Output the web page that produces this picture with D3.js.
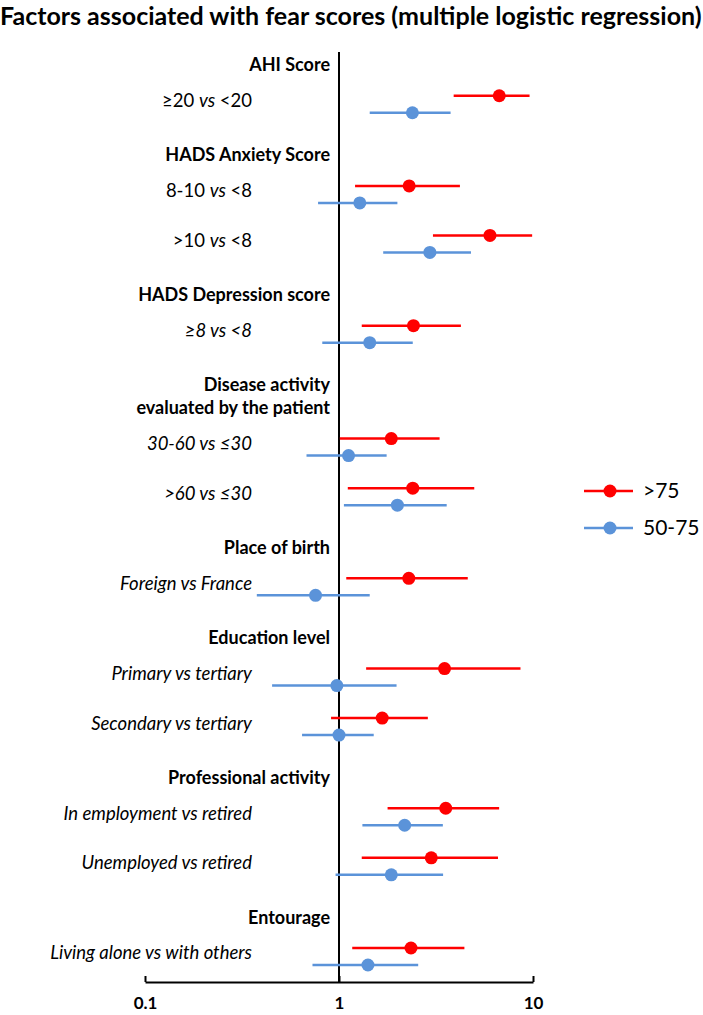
<!DOCTYPE html>
<html>
<head>
<meta charset="utf-8">
<script src="https://cdn.jsdelivr.net/npm/d3@7/dist/d3.min.js"></script>
<style>
  body { margin: 0; background: #fff; }
  text { font-family: Lato, "Open Sans", sans-serif; fill: #000; }
</style>
</head>
<body>
<div class="chart"></div>
<script>
// group headings (a heading may take two lines)
var groups = [
    ["AHI Score"],
    ["HADS Anxiety Score"],
    ["HADS Depression score"],
    ["Disease activity", "evaluated by the patient"],
    ["Place of birth"],
    ["Education level"],
    ["Professional activity"],
    ["Entourage"]
];

// comparisons, which group they sit in, and whether the whole label is italic
var rowLabels = ["≥20 vs <20", "8-10 vs <8", ">10 vs <8", "≥8 vs <8", "30-60 vs ≤30", ">60 vs ≤30",
    "Foreign vs France", "Primary vs tertiary", "Secondary vs tertiary",
    "In employment vs retired", "Unemployed vs retired", "Living alone vs with others"];
var rowGroup = [0, 1, 1, 2, 3, 3, 4, 5, 5, 6, 6, 7];
var rowItalic = [false, false, false, true, true, true, true, true, true, true, true, true];

var series = [">75", "50-75"];
var colors = ["#ff0000", "#5b93d9"];

// odds ratios and 95% CI, >75
var or75 = [6.7, 2.3, 6.0, 2.42, 1.86, 2.4, 2.29, 3.5, 1.67, 3.55, 2.99, 2.35];
var lo75 = [3.9, 1.21, 3.05, 1.31, 1.01, 1.11, 1.09, 1.38, 0.91, 1.78, 1.31, 1.17];
var hi75 = [9.6, 4.2, 9.9, 4.25, 3.3, 4.98, 4.61, 8.62, 2.87, 6.69, 6.6, 4.43];
// odds ratios and 95% CI, 50-75
var or50 = [2.39, 1.28, 2.94, 1.44, 1.12, 2.0, 0.757, 0.975, 1.0, 2.18, 1.86, 1.41];
var lo50 = [1.44, 0.78, 1.69, 0.82, 0.68, 1.06, 0.377, 0.452, 0.645, 1.32, 0.96, 0.73];
var hi50 = [3.76, 2.0, 4.79, 2.4, 1.76, 3.59, 1.44, 1.98, 1.51, 3.43, 3.44, 2.56];

var tickValues = [0.1, 1, 10];

var width = 703,
    height = 1015;

var svg = d3.select(".chart").append("svg")
    .attr("width", width)
    .attr("height", height);

svg.append("text")
    .attr("x", 0)
    .attr("y", 25)
    .attr("font-size", 25)
    .attr("font-weight", "bold")
    .text("Factors associated with fear scores (multiple logistic regression)");

// vertical layout in slots: heading -> row 3, row -> row 5, row -> heading 6
var headPos = [], rowPos = [];
var pos = 0;
groups.forEach(function(g, gi) {
    if (gi > 0) pos += 6;
    var lines = [];
    g.forEach(function(line, li) {
        if (li > 0) pos += 2.3;
        lines.push(pos);
    });
    headPos.push(lines);
    var first = true;
    rowGroup.forEach(function(rg, ri) {
        if (rg !== gi) return;
        pos += first ? 3.1 : 5;
        first = false;
        rowPos[ri] = pos;
    });
});

var y = d3.scaleLinear().domain([0, pos]).range([65, 948]);
var x = d3.scaleLog().domain([0.1, 10]).range([145, 533]);
var offset = d3.scalePoint().domain(series).range([0, 17]);
var axisY = 982;

// headings
groups.forEach(function(g, gi) {
    g.forEach(function(line, li) {
        svg.append("text")
            .attr("x", 330)
            .attr("y", y(headPos[gi][li]))
            .attr("dy", "0.35em")
            .attr("text-anchor", "end")
            .attr("font-size", 18)
            .attr("font-weight", "bold")
            .text(line);
    });
});

// comparison labels
rowLabels.forEach(function(lab, i) {
    var parts = lab.split(" vs ");
    var t = svg.append("text")
        .attr("x", 252)
        .attr("y", y(rowPos[i]) + 5)
        .attr("dy", "0.35em")
        .attr("text-anchor", "end")
        .attr("font-size", 18.5)
        .attr("font-style", rowItalic[i] ? "italic" : "normal");
    t.append("tspan").text(parts[0] + " ");
    t.append("tspan").attr("font-style", "italic").text("vs");
    t.append("tspan").text(" " + parts[1]);
});

// reference line at OR = 1
svg.append("line")
    .attr("x1", x(1)).attr("x2", x(1))
    .attr("y1", 52).attr("y2", axisY)
    .attr("stroke", "#000")
    .attr("stroke-width", 2);

var sets = [
    { name: series[0], or: or75, lo: lo75, hi: hi75, color: colors[0] },
    { name: series[1], or: or50, lo: lo50, hi: hi50, color: colors[1] }
];

sets.forEach(function(s) {
    var g = svg.append("g").attr("class", "series");
    var idx = d3.range(rowLabels.length);
    g.selectAll("line")
        .data(idx)
        .enter().append("line")
        .attr("x1", function(i) { return x(s.lo[i]); })
        .attr("x2", function(i) { return x(s.hi[i]); })
        .attr("y1", function(i) { return y(rowPos[i]) + offset(s.name); })
        .attr("y2", function(i) { return y(rowPos[i]) + offset(s.name); })
        .attr("stroke", s.color)
        .attr("stroke-width", 2.5);
    g.selectAll("circle")
        .data(idx)
        .enter().append("circle")
        .attr("cx", function(i) { return x(s.or[i]); })
        .attr("cy", function(i) { return y(rowPos[i]) + offset(s.name); })
        .attr("r", 6.5)
        .attr("fill", s.color);
});

// x axis
var axis = svg.append("g")
    .attr("transform", "translate(0," + axisY + ")")
    .call(d3.axisBottom(x)
        .tickValues(tickValues)
        .tickFormat(d3.format("~g"))
        .tickSizeInner(-6)
        .tickSizeOuter(0)
        .tickPadding(15));
axis.select(".domain").attr("stroke", "#000").attr("stroke-width", 2);
axis.selectAll(".tick line").attr("stroke", "#000").attr("stroke-width", 2);
axis.selectAll(".tick text")
    .attr("font-family", "Lato, sans-serif")
    .attr("font-size", 17)
    .attr("font-weight", "bold")
    .attr("fill", "#000");

// legend
var legend = svg.append("g").attr("transform", "translate(584,0)");
sets.forEach(function(s, i) {
    var ly = 491 + i * 37;
    legend.append("line")
        .attr("x1", 0).attr("x2", 49)
        .attr("y1", ly).attr("y2", ly)
        .attr("stroke", s.color)
        .attr("stroke-width", 2.5);
    legend.append("circle")
        .attr("cx", 26).attr("cy", ly)
        .attr("r", 6.5)
        .attr("fill", s.color);
    legend.append("text")
        .attr("x", 59).attr("y", ly)
        .attr("dy", "0.35em")
        .attr("font-size", 21)
        .text(s.name);
});
</script>
</body>
</html>
